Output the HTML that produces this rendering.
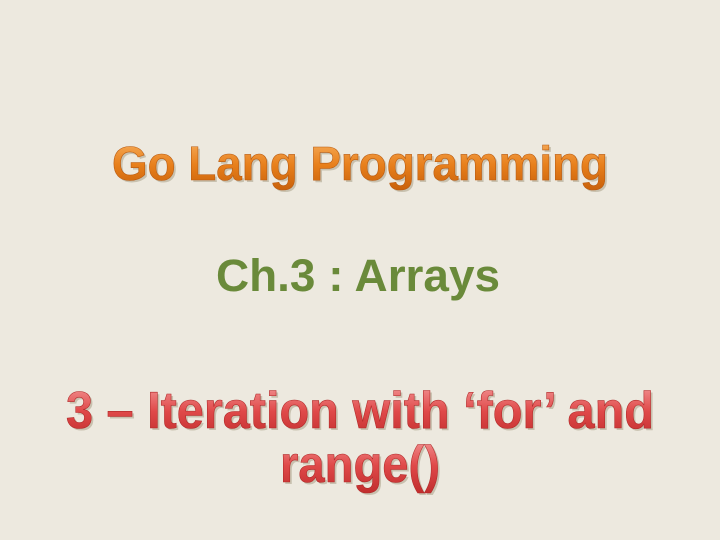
<!DOCTYPE html>
<html><head><style>
html,body{margin:0;padding:0;width:720px;height:540px;overflow:hidden;background:#ede9df}
text{font-family:"Liberation Sans",sans-serif;font-weight:bold}
</style></head><body>
<svg width="720" height="540" xmlns="http://www.w3.org/2000/svg">
<defs>
<linearGradient id="og" x1="0" y1="0" x2="0" y2="1">
<stop offset="0" stop-color="#f7b060"/><stop offset="0.5" stop-color="#e8801c"/><stop offset="1" stop-color="#c8600a"/>
</linearGradient>
<linearGradient id="rg" x1="0" y1="0" x2="0" y2="1">
<stop offset="0" stop-color="#f49a9a"/><stop offset="0.5" stop-color="#e04a4a"/><stop offset="1" stop-color="#c02c2c"/>
</linearGradient>
</defs>
<rect width="720" height="540" fill="#ede9df"/>
<text x="360" y="180" font-size="48" text-anchor="middle" textLength="496" lengthAdjust="spacingAndGlyphs" fill="#b0a890" opacity="0.6" transform="translate(2,2)">Go Lang Programming</text>
<text x="360" y="180" font-size="48" text-anchor="middle" textLength="496" lengthAdjust="spacingAndGlyphs" fill="url(#og)" stroke="#b85a10" stroke-width="0.6">Go Lang Programming</text>
<text x="358" y="291" font-size="45" text-anchor="middle" textLength="284" lengthAdjust="spacingAndGlyphs" fill="#6a8a3a">Ch.3 : Arrays</text>
<text x="360" y="428" font-size="52" text-anchor="middle" textLength="588" lengthAdjust="spacingAndGlyphs" fill="#b0a890" opacity="0.6" transform="translate(2,2)">3 – Iteration with ‘for’ and</text>
<text x="360" y="428" font-size="52" text-anchor="middle" textLength="588" lengthAdjust="spacingAndGlyphs" fill="url(#rg)" stroke="#b02828" stroke-width="0.6">3 – Iteration with ‘for’ and</text>
<text x="360" y="482" font-size="52" text-anchor="middle" textLength="160" lengthAdjust="spacingAndGlyphs" fill="#b0a890" opacity="0.6" transform="translate(2,2)">range()</text>
<text x="360" y="482" font-size="52" text-anchor="middle" textLength="160" lengthAdjust="spacingAndGlyphs" fill="url(#rg)" stroke="#b02828" stroke-width="0.6">range()</text>
</svg>
</body></html>
